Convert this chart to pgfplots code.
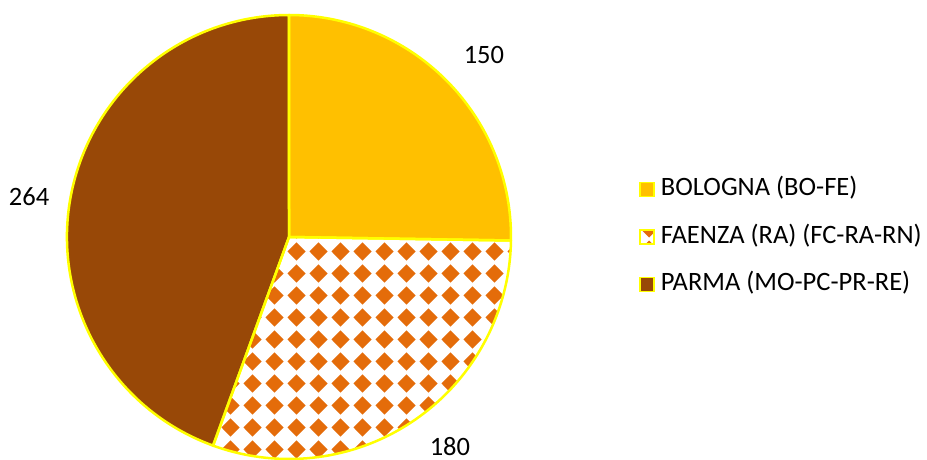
\documentclass[border=0pt]{standalone}
\usepackage{fontspec}
\setmainfont{Carlito}
\usepackage{pgfplots}
\usepackage{pgfplotstable}
\pgfplotsset{compat=1.18}
\usetikzlibrary{patterns}

\definecolor{bolo}{HTML}{FFC000}
\definecolor{faen}{HTML}{E46C0A}
\definecolor{parm}{HTML}{984807}
\definecolor{edge}{HTML}{FFFF00}

\pgfdeclarepatternformonly{diamondgrid}{\pgfpointorigin}{\pgfpoint{22pt}{22pt}}{\pgfpoint{22pt}{22pt}}{%
 \pgfpathmoveto{\pgfpoint{11pt}{1.5pt}}%
 \pgfpathlineto{\pgfpoint{20.5pt}{11pt}}%
 \pgfpathlineto{\pgfpoint{11pt}{20.5pt}}%
 \pgfpathlineto{\pgfpoint{1.5pt}{11pt}}%
 \pgfpathclose
 \pgfusepath{fill}}

\pgfplotstableread{
label value
Bologna 150
Faenza 180
Parma 264
}\piedata

\begin{document}
\begin{tikzpicture}
\useasboundingbox (0,0) rectangle (927pt,459pt);
\pgfplotstablegetelem{0}{value}\of\piedata \edef\va{\pgfplotsretval}
\pgfplotstablegetelem{1}{value}\of\piedata \edef\vb{\pgfplotsretval}
\pgfplotstablegetelem{2}{value}\of\piedata \edef\vc{\pgfplotsretval}
\pgfmathsetmacro\tot{\va+\vb+\vc}
\pgfmathsetmacro\aA{90}
\pgfmathsetmacro\aB{90-360*(\va/\tot)}
\pgfmathsetmacro\aC{\aB-360*(\vb/\tot)}
\pgfmathsetmacro\aD{\aC-360*(\vc/\tot)}
\begin{axis}[
  x=222pt, y=222pt,
  xmin=-1.30180, xmax=2.87387, ymin=-1.0, ymax=1.06757,
  hide axis, anchor=south west, at={(0pt,0pt)},
  legend style={at={(axis description cs:0.6893,0.48366)}, anchor=west,
    draw=none, fill=none, inner sep=0pt, row sep=25.5pt,
    font=\fontsize{26.5}{30}\selectfont,
    nodes={inner sep=0pt, text height=17pt, text depth=5pt}},
  legend cell align=left,
]
\addlegendimage{legend image code/.code={\fill[bolo,draw=edge,line width=1.5pt] (0pt,-7pt) rectangle (14pt,7pt);\path[draw=none,fill=none] (0pt,0pt) -- (21pt,0pt);}}
\addlegendimage{legend image code/.code={\fill[white] (0pt,-7pt) rectangle (14pt,7pt);\fill[pattern=diamondgrid,pattern color=faen] (0pt,-7pt) rectangle (14pt,7pt);\draw[edge,line width=1.5pt] (0pt,-7pt) rectangle (14pt,7pt);\path[draw=none,fill=none] (0pt,0pt) -- (21pt,0pt);}}
\addlegendimage{legend image code/.code={\fill[parm,draw=edge,line width=1.5pt] (0pt,-7pt) rectangle (14pt,7pt);\path[draw=none,fill=none] (0pt,0pt) -- (21pt,0pt);}}
\legend{BOLOGNA (BO-FE),FAENZA (RA) (FC-RA-RN),PARMA (MO-PC-PR-RE)}

\fill[bolo] (axis cs:0,0) -- (axis cs:{cos(\aA)},{sin(\aA)}) arc[start angle=\aA, end angle=\aB, radius=222pt] -- cycle;
\fill[white] (axis cs:0,0) -- (axis cs:{cos(\aB)},{sin(\aB)}) arc[start angle=\aB, end angle=\aC, radius=222pt] -- cycle;
\fill[pattern=diamondgrid, pattern color=faen] (axis cs:0,0) -- (axis cs:{cos(\aB)},{sin(\aB)}) arc[start angle=\aB, end angle=\aC, radius=222pt] -- cycle;
\fill[parm] (axis cs:0,0) -- (axis cs:{cos(\aC)},{sin(\aC)}) arc[start angle=\aC, end angle=\aD, radius=222pt] -- cycle;
\draw[edge, line width=2.5pt, line join=round] (axis cs:0,0) -- (axis cs:{cos(\aA)},{sin(\aA)}) arc[start angle=\aA, end angle=\aB, radius=222pt] -- cycle;
\draw[edge, line width=2.5pt, line join=round] (axis cs:0,0) -- (axis cs:{cos(\aB)},{sin(\aB)}) arc[start angle=\aB, end angle=\aC, radius=222pt] -- cycle;
\draw[edge, line width=2.5pt, line join=round] (axis cs:0,0) -- (axis cs:{cos(\aC)},{sin(\aC)}) arc[start angle=\aC, end angle=\aD, radius=222pt] -- cycle;

\node[inner sep=0pt, font=\fontsize{26.5}{30}\selectfont] at (axis cs:0.878,0.820) {\va};
\node[inner sep=0pt, font=\fontsize{26.5}{30}\selectfont] at (axis cs:0.725,-0.942) {\vb};
\node[inner sep=0pt, font=\fontsize{26.5}{30}\selectfont] at (axis cs:-1.171,0.180) {\vc};
\end{axis}
\end{tikzpicture}
\end{document}
